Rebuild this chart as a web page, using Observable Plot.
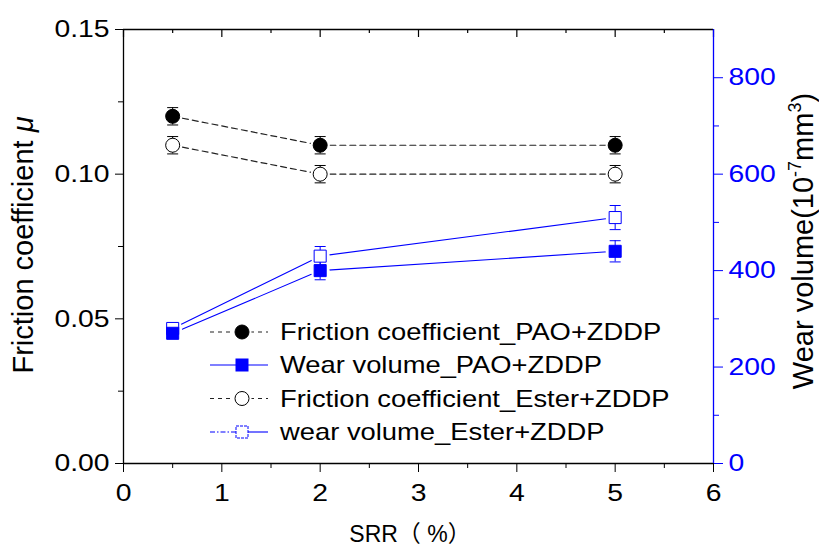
<!DOCTYPE html>
<html><head><meta charset="utf-8">
<script src="https://cdn.jsdelivr.net/npm/d3@7"></script>
<script src="https://cdn.jsdelivr.net/npm/@observablehq/plot@0.6"></script>
<style>html,body{margin:0;padding:0;background:#fff}#chart{position:relative;width:819px;height:547px}</style>
</head><body><div id="chart"></div>
<script>
// ---- data ----
const srr = [0.5, 2, 5];
const frictionPAO = [0.120, 0.110, 0.110];
const frictionPAOErr = [0.003, 0.003, 0.003];
const frictionEster = [0.110, 0.100, 0.100];
const frictionEsterErr = [0.003, 0.003, 0.003];
const wearPAO = [270, 400, 440];
const wearPAOErr = [8, 19, 22];
const wearEster = [280, 430, 510];
const wearEsterErr = [8, 20, 25];

const leftTicks = [0, 0.05, 0.10, 0.15];
const leftMinor = [0.025, 0.075, 0.125];
const rightTicks = [0, 200, 400, 600, 800];
const rightMinor = [100, 300, 500, 700];
const xTicks = [0, 1, 2, 3, 4, 5, 6];
const xMinor = [0.5, 1.5, 2.5, 3.5, 4.5, 5.5];
const legendLabels = [
  "Friction coefficient_PAO+ZDDP",
  "Wear volume_PAO+ZDDP",
  "Friction coefficient_Ester+ZDDP",
  "wear volume_Ester+ZDDP"
];

const muMax = 0.15, wearMax = 900;
const k = muMax / wearMax; // wear -> left-axis units
const BLUE = "#0000ff";

const W = 819, H = 547, MT = 29, MB = 84, ML = 123, MR = 106;
const frameH = H - MT - MB;
const px = muMax / frameH; // one pixel in left-axis units (for inward top ticks)

const fPAO = srr.map((x, i) => ({x, y: frictionPAO[i], lo: frictionPAO[i] - frictionPAOErr[i], hi: frictionPAO[i] + frictionPAOErr[i]}));
const fEst = srr.map((x, i) => ({x, y: frictionEster[i], lo: frictionEster[i] - frictionEsterErr[i], hi: frictionEster[i] + frictionEsterErr[i]}));
const wPAO = srr.map((x, i) => ({x, y: wearPAO[i] * k, lo: (wearPAO[i] - wearPAOErr[i]) * k, hi: (wearPAO[i] + wearPAOErr[i]) * k}));
const wEst = srr.map((x, i) => ({x, y: wearEster[i] * k, lo: (wearEster[i] - wearEsterErr[i]) * k, hi: (wearEster[i] + wearEsterErr[i]) * k}));
const allPts = [...fPAO, ...fEst, ...wPAO, ...wEst];

const cap = {draw(ctx, size) { const h = Math.sqrt(size / Math.PI); ctx.moveTo(-h, 0); ctx.lineTo(h, 0); }};

function errMarks(data, color) {
  return [
    Plot.ruleX(data, {x: "x", y1: "lo", y2: "hi", stroke: color, strokeWidth: 1}),
    Plot.dot(data, {x: "x", y: "lo", symbol: cap, r: 5.5, fill: "none", stroke: color, strokeWidth: 1}),
    Plot.dot(data, {x: "x", y: "hi", symbol: cap, r: 5.5, fill: "none", stroke: color, strokeWidth: 1})
  ];
}

const FONT = "'Liberation Sans', Arial, sans-serif";
const TF = 24;

const plot = Plot.plot({
  width: W, height: H,
  marginLeft: ML, marginRight: MR, marginTop: MT, marginBottom: MB,
  style: {fontFamily: FONT, background: "#fff", overflow: "visible"},
  x: {domain: [0, 6]},
  y: {domain: [0, muMax]},
  marks: [
    // axes
    Plot.axisX({ticks: xTicks, tickSize: 9, tickPadding: 11, fontSize: TF, tickFormat: d => String(d), label: null, color: "#000"}),
    Plot.axisX({ticks: xMinor, tickSize: 5, tickFormat: () => "", label: null, color: "#000"}),
    // inward ticks on the top edge
    Plot.ruleX(xTicks, {x: d => d, y1: muMax, y2: muMax - 8 * px, stroke: "#000", strokeWidth: 1.2}),
    Plot.ruleX(xMinor, {x: d => d, y1: muMax, y2: muMax - 4 * px, stroke: "#000", strokeWidth: 1.2}),
    Plot.axisY({ticks: leftTicks, tickSize: 8, tickPadding: 6, fontSize: TF, tickFormat: d3.format(".2f"), label: null, color: "#000"}),
    Plot.axisY({ticks: leftMinor, tickSize: 5, tickFormat: () => "", label: null, color: "#000"}),
    Plot.axisY({anchor: "right", ticks: rightTicks.map(w => w * k), tickSize: 9, tickPadding: 6, fontSize: TF, tickFormat: d => String(Math.round(d / k)), label: null, color: BLUE}),
    Plot.axisY({anchor: "right", ticks: rightMinor.map(w => w * k), tickSize: 5, tickFormat: () => "", label: null, color: BLUE}),
    Plot.ruleY([0, muMax], {stroke: "#000", strokeWidth: 1.3}),
    Plot.ruleX([0], {stroke: "#000", strokeWidth: 1.3}),
    Plot.ruleX([6], {stroke: BLUE, strokeWidth: 1.3}),
    // lines
    Plot.line(fPAO, {x: "x", y: "y", stroke: "#222", strokeWidth: 1.2, strokeDasharray: "6,4"}),
    Plot.line(fEst, {x: "x", y: "y", stroke: "#222", strokeWidth: 1.2, strokeDasharray: "6,4"}),
    Plot.line(wPAO, {x: "x", y: "y", stroke: BLUE, strokeWidth: 1.1}),
    Plot.line(wEst, {x: "x", y: "y", stroke: BLUE, strokeWidth: 1.1}),
    // small gap between lines and symbols
    Plot.dot(allPts, {x: "x", y: "y", r: 9.5, fill: "#fff", stroke: "none"}),
    // error bars
    ...errMarks(fPAO, "#000"),
    ...errMarks(fEst, "#000"),
    ...errMarks(wPAO, BLUE),
    ...errMarks(wEst, BLUE),
    // markers
    Plot.dot(wEst, {x: "x", y: "y", symbol: "square", r: 6.8, fill: "#fff", stroke: BLUE, strokeWidth: 1}),
    Plot.dot(wPAO, {x: "x", y: "y", symbol: "square", r: 6.8, fill: BLUE, stroke: BLUE, strokeWidth: 1}),
    Plot.dot(fEst, {x: "x", y: "y", r: 7, fill: "#fff", stroke: "#000", strokeWidth: 1}),
    Plot.dot(fPAO, {x: "x", y: "y", r: 7, fill: "#000", stroke: "#000", strokeWidth: 1})
  ]
});

document.getElementById("chart").appendChild(plot);

// widen horizontal tick labels like the reference's stretched glyphs
const SX = 1.18;
plot.querySelectorAll('g[aria-label$="tick label"] text').forEach(t => {
  const tr = t.getAttribute("transform") || "";
  const xa = t.getAttribute("x");
  let extra = "";
  if (xa && !isNaN(+xa) && +xa !== 0) { extra = ` translate(${xa},0)`; t.removeAttribute("x"); }
  t.setAttribute("transform", `${tr}${extra} scale(${SX},1)`);
});

const svg = d3.select(plot);
const g = svg.append("g").attr("font-family", FONT);

// axis titles
const lt = g.append("text").attr("transform", "translate(33,245) rotate(-90)")
  .attr("text-anchor", "middle").attr("font-size", 29).attr("fill", "#000");
lt.append("tspan").text("Friction coefficient ");
lt.append("tspan").attr("font-style", "italic").text("μ");

const rt = g.append("text").attr("transform", "translate(813,241) rotate(-90)")
  .attr("text-anchor", "middle").attr("font-size", 29).attr("fill", "#000");
rt.append("tspan").text("Wear volume(10");
rt.append("tspan").attr("font-size", 18).attr("dy", -12).text("-7");
rt.append("tspan").attr("dy", 12).text("mm");
rt.append("tspan").attr("font-size", 18).attr("dy", -12).text("3");
rt.append("tspan").attr("dy", 12).text(")");

g.append("text").attr("x", 410).attr("y", 542).attr("text-anchor", "middle")
  .attr("font-size", 23).attr("font-family", "'Liberation Sans', 'Noto Sans CJK SC', sans-serif")
  .text("SRR（ %）");

// legend
const rowsY = [332, 365, 398.5, 432];
const lg = g.append("g");
rowsY.forEach((y, i) => {
  const row = lg.append("g").attr("transform", `translate(0,${y})`);
  if (i === 0 || i === 2) {
    row.append("line").attr("x1", 210).attr("x2", 268).attr("stroke", "#222").attr("stroke-width", 1.2).attr("stroke-dasharray", "4,4");
    row.append("circle").attr("cx", 242).attr("cy", 0).attr("r", 9.5).attr("fill", "#fff");
    row.append("circle").attr("cx", 242).attr("cy", 0).attr("r", 7)
      .attr("fill", i === 0 ? "#000" : "#fff").attr("stroke", "#000");
  } else if (i === 1) {
    row.append("line").attr("x1", 210).attr("x2", 268).attr("stroke", BLUE).attr("stroke-width", 1.1);
    row.append("rect").attr("x", 236).attr("y", -6).attr("width", 12).attr("height", 12).attr("fill", BLUE).attr("stroke", BLUE);
  } else {
    row.append("line").attr("x1", 210).attr("x2", 236).attr("stroke", BLUE).attr("stroke-width", 1.1).attr("stroke-dasharray", "5,2,1.5,2");
    row.append("line").attr("x1", 248).attr("x2", 268).attr("stroke", BLUE).attr("stroke-width", 1.1);
    row.append("rect").attr("x", 236).attr("y", -6).attr("width", 12).attr("height", 12).attr("fill", "#fff").attr("stroke", BLUE).attr("stroke-dasharray", "3,1");
  }
  row.append("text").attr("transform", `translate(280,0) scale(1.19,1)`).attr("dy", "0.36em")
    .attr("text-anchor", "start").attr("font-size", 23).attr("fill", "#000").text(legendLabels[i]);
});
</script>
</body></html>
